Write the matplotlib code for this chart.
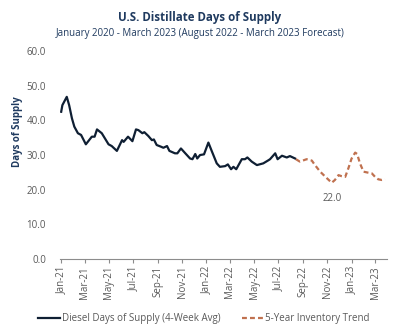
import pandas as pd
import matplotlib
matplotlib.use("Agg")
import matplotlib.pyplot as plt
import matplotlib.dates as mdates

plt.rcParams['font.family'] = ['Open Sans', 'DejaVu Sans']

# Diesel days of supply (4-week avg)
diesel_dates = [
    '2021-01-01', '2021-01-04', '2021-01-15', '2021-01-21', '2021-01-28', '2021-02-03',
    '2021-02-12', '2021-02-20', '2021-03-04', '2021-03-19', '2021-03-26', '2021-04-01',
    '2021-04-13', '2021-04-30', '2021-05-08', '2021-05-21', '2021-06-03', '2021-06-07',
    '2021-06-18', '2021-06-29', '2021-07-08', '2021-07-14', '2021-07-24', '2021-07-29',
    '2021-08-08', '2021-08-17', '2021-08-22', '2021-08-29', '2021-09-09', '2021-09-15',
    '2021-09-24', '2021-09-30', '2021-10-14', '2021-10-20', '2021-10-29', '2021-11-09',
    '2021-11-21', '2021-11-27', '2021-12-04', '2021-12-09', '2021-12-16', '2021-12-26',
    '2022-01-06', '2022-01-15', '2022-01-27', '2022-02-04', '2022-02-17', '2022-02-24',
    '2022-03-04', '2022-03-10', '2022-03-17', '2022-03-31', '2022-04-08', '2022-04-14',
    '2022-04-25', '2022-05-08', '2022-05-24', '2022-06-06', '2022-06-10', '2022-06-23',
    '2022-06-29', '2022-07-10', '2022-07-22', '2022-07-30', '2022-08-12',
]
diesel_values = [
    42.5, 44.4, 46.8, 44.4, 40.6, 38.2,
    36.3, 35.8, 33.1, 35.3, 35.3, 37.4,
    36.3, 33.1, 32.6, 31.2, 34.3, 33.8,
    35.3, 34.0, 37.4, 37.2, 36.3, 36.6,
    35.5, 34.3, 34.5, 32.9, 32.4, 32.1,
    32.6, 31.2, 30.5, 30.5, 31.9, 30.5,
    29.0, 28.8, 30.3, 29.0, 30.0, 30.2,
    33.6, 31.0, 27.6, 26.6, 26.8, 27.3,
    25.9, 26.6, 25.9, 28.8, 28.8, 29.3,
    28.1, 27.1, 27.6, 28.5, 28.8, 30.5,
    28.8, 29.8, 29.3, 29.7, 29.0,
]

# 5-year inventory trend (forecast)
trend_dates = [
    '2022-08-14', '2022-08-24', '2022-09-10', '2022-09-23', '2022-10-01', '2022-10-14',
    '2022-10-31', '2022-11-12', '2022-11-20', '2022-11-29', '2022-12-07', '2022-12-16',
    '2022-12-24', '2023-01-01', '2023-01-10', '2023-01-15', '2023-01-22', '2023-01-31',
    '2023-02-12', '2023-02-21', '2023-03-01', '2023-03-09', '2023-03-18', '2023-03-26',
]
trend_values = [
    28.8, 28.1, 28.8, 28.4, 27.1, 25.2,
    23.3, 22.0, 22.8, 24.2, 23.9, 23.7,
    26.2, 29.0, 30.7, 30.3, 27.6, 25.2,
    24.9, 24.7, 23.7, 23.0, 22.8, 23.0,
]

min_label = '22.0'
min_date = '2022-11-12'

navy = '#1f3a5f'
grey = '#595959'

d_dates = pd.to_datetime(diesel_dates)
t_dates = pd.to_datetime(trend_dates)

fig = plt.figure(figsize=(4, 3.32), dpi=100)
ax = fig.add_axes([0.15, 0.22, 0.8175, 0.626])

ax.plot(d_dates, diesel_values, color='#0f1f33', linewidth=1.6,
        label='Diesel Days of Supply (4-Week Avg)')
ax.plot(t_dates, trend_values, color='#c0714f', linewidth=1.6,
        linestyle=(0, (2.2, 1.4)), label='5-Year Inventory Trend')

ax.annotate(min_label, xy=(pd.Timestamp(min_date), min(trend_values)),
            xytext=(0, -11), textcoords='offset points', ha='center', va='center',
            fontsize=7, color=grey)

ax.set_ylim(0, 60)
ax.set_yticks(range(0, 61, 10))
ax.set_yticklabels([f'{v:.1f}' for v in range(0, 61, 10)])
ax.set_xlim(pd.Timestamp('2020-12-29'), pd.Timestamp('2023-03-31'))
ax.xaxis.set_major_locator(mdates.MonthLocator(bymonth=[1, 3, 5, 7, 9, 11]))
ax.xaxis.set_major_formatter(mdates.DateFormatter('%b-%y'))
plt.setp(ax.get_xticklabels(), rotation=90)

for s in ['top', 'right', 'left']:
    ax.spines[s].set_visible(False)
ax.spines['bottom'].set_color('#8c8c8c')
ax.spines['bottom'].set_linewidth(0.8)
ax.tick_params(axis='y', length=0, labelsize=7, labelcolor=grey, pad=10)
ax.tick_params(axis='x', length=3, color='#8c8c8c', labelsize=7, labelcolor=grey, pad=2)

ax.set_ylabel('Days of Supply', fontsize=7, fontweight='bold', color=navy)
ax.yaxis.set_label_coords(-0.112, 0.61)

fig.text(0.5, 0.948, 'U.S. Distillate Days of Supply', ha='center', va='center',
         fontsize=8.3, fontweight='bold', color=navy)
fig.text(0.5, 0.9, 'January 2020 - March 2023 (August 2022 - March 2023 Forecast)',
         ha='center', va='center', fontsize=7, color=navy)

fig.legend(loc='center', bbox_to_anchor=(0.51, 0.04), ncol=2, frameon=False,
           fontsize=7, handlelength=2.2, columnspacing=2.2, handletextpad=0.2,
           labelcolor=grey)

fig.savefig('out.png', dpi=100)
